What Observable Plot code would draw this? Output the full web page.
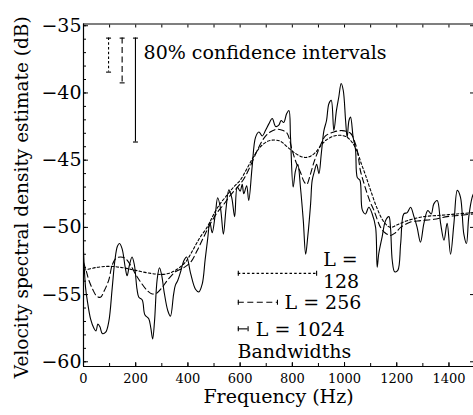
<!DOCTYPE html>
<html><head><meta charset="utf-8">
<script src="https://cdn.jsdelivr.net/npm/d3@7"></script>
<script src="https://cdn.jsdelivr.net/npm/@observablehq/plot@0.6"></script>
<style>
html,body{margin:0;padding:0;background:#fff;}
#chart svg{display:block;}
</style></head><body><div id="chart"></div>
<script>
// ---- data ----
// L = 1024 (solid)
const freq1024 = [0,8,15,27,40,48,55,63,72,85,97,110,120,130,138,148,160,167,176,186,195,205,212,225,235,250,258,265,272,282,291,300,308,323,333,345,352,361,372,384,395,410,429,442,455,466,476,484,493,505,514,525,536,546,557,568,579,589,600,608,614,625,633,646,659,672,685,697,710,723,736,748,757,767,778,787,793,803,812,821,831,842,851,859,870,876,885,893,902,911,921,931,940,949,959,969,978,987,995,1004,1010,1017,1023,1033,1042,1049,1059,1068,1080,1093,1106,1119,1125,1131,1144,1157,1170,1176,1183,1192,1204,1215,1227,1240,1253,1266,1278,1291,1304,1319,1332,1342,1355,1368,1381,1393,1406,1419,1432,1444,1457,1467,1476,1489,1494];
const db1024 = [-51.8,-54.5,-55.5,-56.8,-57.5,-57.7,-57.2,-57.4,-57.9,-57.8,-57.0,-54.5,-52.5,-51.4,-51.2,-51.6,-53.0,-53.6,-52.8,-52.2,-52.8,-54.6,-55.2,-55.4,-56.5,-56.8,-57.5,-58.3,-57.0,-53.9,-53.0,-53.6,-54.7,-56.2,-56.6,-55.0,-54.3,-53.95,-53.3,-52.5,-52.2,-53.4,-54.6,-54.8,-54.2,-52.4,-50.8,-49.6,-50.4,-49.0,-47.8,-48.6,-50.5,-48.6,-47.2,-47.8,-49.2,-47.0,-47.3,-46.8,-47.5,-46.9,-48.0,-45.5,-43.3,-42.9,-43.2,-42.8,-42.3,-41.9,-42.5,-42.4,-42.05,-42.2,-41.55,-41.3,-43.3,-47.0,-45.8,-45.3,-47.0,-49.5,-52.0,-50.7,-48.25,-46.5,-45.8,-45.3,-46.0,-44.5,-42.8,-42.05,-40.8,-40.55,-42.8,-41.3,-40.3,-39.3,-39.8,-42.05,-43.3,-42.05,-41.8,-43.3,-44.2,-46.3,-46.5,-48.7,-49.0,-48.5,-49.0,-50.0,-52.96,-51.96,-50.7,-49.5,-49.2,-50.0,-52.5,-53.3,-53.2,-51.2,-49.0,-48.9,-48.5,-49.2,-50.0,-51.1,-49.7,-48.75,-49.0,-48.25,-48.0,-49.7,-50.95,-49.7,-52.0,-49.7,-47.25,-47.75,-50.5,-51.2,-49.2,-47.75,-47.5];
// L = 256 (dashed)
const freq256 = [0,10,20,35,50,65,80,97,110,125,142,160,180,200,220,244,263,280,300,321,352,384,410,436,461,487,512,537,563,590,614,640,665,690,715,742,765,780,800,815,831,845,855,870,882,895,910,927,959,991,1023,1040,1049,1061,1074,1087,1100,1112,1125,1138,1155,1176,1195,1215,1253,1291,1342,1393,1444,1494];
const db256 = [-52.6,-53.2,-53.9,-54.6,-55.1,-55.2,-54.7,-53.9,-52.8,-52.3,-52.2,-52.3,-52.8,-53.5,-54.1,-54.7,-54.95,-54.9,-54.5,-53.95,-53.3,-53.0,-52.6,-51.7,-50.7,-49.7,-48.9,-48.3,-47.6,-47.0,-46.4,-45.4,-44.3,-43.4,-42.9,-42.7,-42.8,-43.0,-44.3,-45.2,-45.9,-46.6,-46.8,-46.0,-45.2,-44.5,-43.8,-43.2,-42.9,-42.8,-43.0,-43.7,-44.3,-45.8,-46.7,-47.5,-48.2,-48.7,-49.4,-50.0,-50.4,-50.6,-50.4,-50.0,-49.6,-49.5,-49.4,-49.2,-49.1,-49.0];
// L = 128 (short dashes)
const freq128 = [0,50,100,150,200,250,300,330,360,390,410,430,448,470,487,505,525,550,575,600,627,653,678,705,730,755,780,805,830,851,870,890,910,930,960,985,1010,1030,1049,1065,1080,1100,1125,1151,1176,1202,1240,1304,1368,1430,1494];
const db128 = [-53.2,-52.98,-52.9,-53.0,-53.2,-53.4,-53.5,-53.4,-53.1,-52.6,-52.0,-51.3,-50.7,-50.1,-49.5,-48.8,-48.2,-47.6,-47.0,-46.5,-45.6,-44.7,-44.0,-43.6,-43.5,-43.6,-44.0,-44.4,-44.7,-44.8,-44.7,-44.4,-43.9,-43.5,-43.2,-43.15,-43.3,-43.7,-44.4,-45.3,-46.1,-47.25,-48.6,-49.6,-50.0,-49.8,-49.5,-49.2,-49.1,-49.0,-48.9];

// 80% confidence intervals (position Hz, top dB, bottom dB)
const ciFreq = [96, 148, 199];
const ciTop = [-35.92, -35.92, -35.92];
const ciBottom = [-38.45, -39.25, -43.65];
// bandwidths (start Hz, width Hz, level dB)
const bwStart = [593, 593, 593];
const bwWidth = [300, 150, 37.5];
const bwLevel = [-53.42, -55.57, -57.55];
const dashes = ["2.5,2.2", "6,3.5", null];

// tick values
const xMajor = [0,200,400,600,800,1000,1200,1400];
const xMinor = d3.range(0, 1500, 100);
const yMajor = [-35,-40,-45,-50,-55,-60];
const yMinor = d3.range(-35, -61, -1);

// legend texts
const legendText = [
  {f: 230, db: -36.99, text: "80% confidence intervals"},
  {f: 918, db: -52.39, text: "L ="},
  {f: 917, db: -54.03, text: "128"},
  {f: 770, db: -55.59, text: "L = 256"},
  {f: 660, db: -57.60, text: "L = 1024"},
  {f: 590, db: -59.30, text: "Bandwidths"}
];

// axis extent
const xDomain = [0, 1494];
const yDomain = [-60.35, -34.87];

// ---- build ----
const mk = (fs, ds) => fs.map((f, i) => ({f, db: ds[i]}));
const curves = [mk(freq128, db128), mk(freq256, db256), mk(freq1024, db1024)];
const ci = ciFreq.map((f, i) => ({f, top: ciTop[i], bottom: ciBottom[i]}));
const bw = bwStart.map((s, i) => ({x1: s, x2: s + bwWidth[i], y: bwLevel[i]}));

const hCap = {draw(ctx) { ctx.moveTo(-2.5, 0); ctx.lineTo(2.5, 0); }};
const vCap = {draw(ctx) { ctx.moveTo(0, -2.5); ctx.lineTo(0, 2.5); }};
const SW = 1.1;

const marks = [
  // box: left, top, bottom (right side is cropped off in the reference)
  Plot.ruleX([xDomain[0]], {stroke: "black", strokeWidth: 1.2}),
  Plot.ruleY(yDomain, {stroke: "black", strokeWidth: 1.2}),
  // inward ticks
  Plot.axisX({anchor: "bottom", ticks: xMinor, tickSize: 3, dy: -3, fill: "none", stroke: "black", label: null}),
  Plot.axisX({anchor: "bottom", ticks: xMajor, tickSize: 4, dy: -4, fill: "none", stroke: "black", label: null}),
  Plot.axisX({anchor: "top", ticks: xMinor, tickSize: 3, dy: 3, fill: "none", stroke: "black", label: null}),
  Plot.axisY({anchor: "left", ticks: yMinor, tickSize: 3, dx: 3, fill: "none", stroke: "black", label: null}),
  Plot.axisY({anchor: "left", ticks: yMajor, tickSize: 5, dx: 5, fill: "none", stroke: "black", label: null}),
  Plot.axisY({anchor: "right", ticks: yMajor, tickSize: 4, dx: -4, fill: "none", stroke: "black", label: null}),
  // tick labels
  Plot.axisX({anchor: "bottom", ticks: xMajor, tickSize: 0, tickPadding: 7, fontSize: 13, fill: "black", label: null, tickFormat: d => String(d)}),
  Plot.axisY({anchor: "left", ticks: yMajor, tickSize: 0, tickPadding: 2, fontSize: 19, fill: "black", label: null}),
  // axis titles
  Plot.text(["Frequency (Hz)"], {frameAnchor: "bottom", dy: 36, fontSize: 19, fill: "black"}),
  Plot.text(["Velocity spectral density estimate (dB)"], {frameAnchor: "left", textAnchor: "middle", rotate: -90, dx: -61, dy: 2, fontSize: 18.5, fill: "black"}),
  // curves
  ...curves.map((c, i) => Plot.line(c, {x: "f", y: "db", stroke: "black", strokeWidth: SW, strokeDasharray: dashes[i], curve: "catmull-rom"})),
  // confidence interval bars
  ...ci.map((d, i) => Plot.ruleX([d], {x: "f", y1: "top", y2: "bottom", stroke: "black", strokeWidth: SW, strokeDasharray: dashes[i]})),
  Plot.dot(ci, {x: "f", y: "top", symbol: hCap, r: 3, stroke: "black", strokeWidth: SW, fill: "none"}),
  Plot.dot(ci, {x: "f", y: "bottom", symbol: hCap, r: 3, stroke: "black", strokeWidth: SW, fill: "none"}),
  // bandwidth bars
  ...bw.map((d, i) => Plot.ruleY([d], {y: "y", x1: "x1", x2: "x2", stroke: "black", strokeWidth: SW, strokeDasharray: dashes[i]})),
  Plot.dot(bw, {x: "x1", y: "y", symbol: vCap, r: 3, stroke: "black", strokeWidth: SW, fill: "none"}),
  Plot.dot(bw, {x: "x2", y: "y", symbol: vCap, r: 3, stroke: "black", strokeWidth: SW, fill: "none"}),
  // legend texts
  Plot.text(legendText, {x: "f", y: "db", text: "text", textAnchor: "start", fontSize: 19, fill: "black"})
];

const chart = Plot.plot({
  width: 473, height: 415,
  marginLeft: 83, marginRight: 0, marginTop: 23.5, marginBottom: 49,
  style: {fontFamily: "DejaVu Serif", fontSize: "19px", color: "black", background: "white", overflow: "visible"},
  x: {domain: xDomain},
  y: {domain: yDomain},
  marks
});
document.getElementById("chart").appendChild(chart);
</script>
</body></html>
